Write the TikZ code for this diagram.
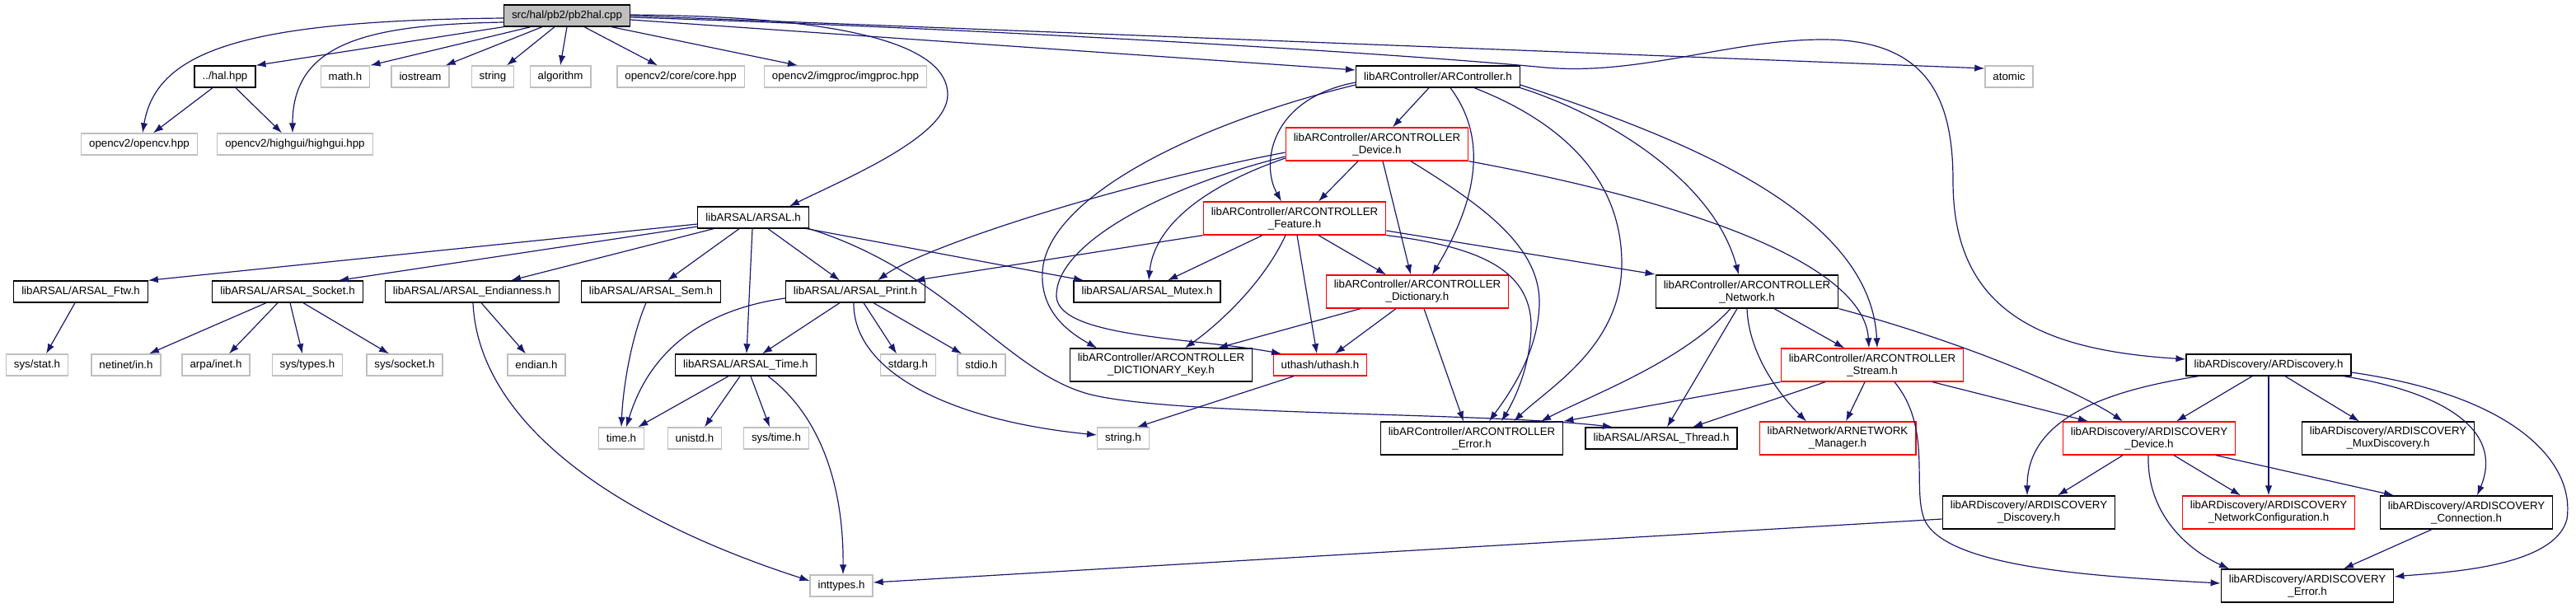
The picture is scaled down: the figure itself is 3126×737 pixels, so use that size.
\documentclass[tikz,border=0pt]{standalone}
\usepackage{fontspec}
\setmainfont{Liberation Sans}
\usetikzlibrary{arrows.meta}
\definecolor{depblue}{RGB}{25,25,112}
\definecolor{extgray}{RGB}{191,191,191}
\definecolor{rootgray}{RGB}{191,191,191}
\definecolor{truncred}{RGB}{255,0,0}
\newcommand{\graphfont}{\fontsize{13.3}{15}\selectfont}
\tikzset{
  >={Latex[length=12pt,width=8.5pt]},
  dep/.style={-{Latex[length=12pt,width=8.5pt]}, draw=depblue, line width=1.2pt},
  filebox/.style={shape=rectangle, draw=black, line width=1.3pt, fill=white, font=\graphfont, align=center, inner xsep=9.5pt, inner ysep=0pt, minimum height=26pt},
  twoline/.style={minimum height=40pt},
  extbox/.style={filebox, draw=extgray},
  redbox/.style={filebox, draw=truncred},
  rootbox/.style={filebox, fill=rootgray}
}

\begin{document}
\begin{tikzpicture}[x=1pt, y=-1pt]
  \useasboundingbox (0,0) rectangle (3126,737);

  % top rows
  \node[rootbox] (root) at (688,19) {src/hal/pb2/pb2hal.cpp};
  \node[filebox] (hal) at (273,93) {../hal.hpp};
  \node[extbox] (mathh) at (419,93) {math.h};
  \node[extbox] (iostream) at (510,93) {iostream};
  \node[extbox] (stringcpp) at (598,93) {string};
  \node[extbox] (algorithm) at (680,93) {algorithm};
  \node[extbox] (corehpp) at (826,93) {opencv2/core/core.hpp};
  \node[extbox] (imgproc) at (1026,93) {opencv2/imgproc/imgproc.hpp};
  \node[filebox] (arctrl) at (1745,93) {libARController/ARController.h};
  \node[extbox] (atomic) at (2438,93) {atomic};
  \node[extbox] (opencv) at (169,175) {opencv2/opencv.hpp};
  \node[extbox] (highgui) at (358,175) {opencv2/highgui/highgui.hpp};
  \node[redbox, twoline] (device) at (1671,175) {libARController/ARCONTROLLER\\\_Device.h};
  \node[redbox, twoline] (feature) at (1571,265) {libARController/ARCONTROLLER\\\_Feature.h};
  \node[filebox] (arsal) at (914,264) {libARSAL/ARSAL.h};

  % middle rows
  \node[filebox] (ftw) at (98,354) {libARSAL/ARSAL\_Ftw.h};
  \node[filebox] (socket) at (349,354) {libARSAL/ARSAL\_Socket.h};
  \node[filebox] (endn) at (573,354) {libARSAL/ARSAL\_Endianness.h};
  \node[filebox] (sem) at (790,354) {libARSAL/ARSAL\_Sem.h};
  \node[filebox] (print) at (1038,354) {libARSAL/ARSAL\_Print.h};
  \node[filebox] (mutex) at (1392,354) {libARSAL/ARSAL\_Mutex.h};
  \node[redbox, twoline] (dict) at (1720,354) {libARController/ARCONTROLLER\\\_Dictionary.h};
  \node[filebox, twoline] (network) at (2120,354) {libARController/ARCONTROLLER\\\_Network.h};

  \node[extbox] (sysstat) at (45,443) {sys/stat.h};
  \node[extbox] (netinet) at (153,443) {netinet/in.h};
  \node[extbox] (arpa) at (262,443) {arpa/inet.h};
  \node[extbox] (systypes) at (373,443) {sys/types.h};
  \node[extbox] (syssocket) at (491,443) {sys/socket.h};
  \node[extbox] (endianh) at (651,443) {endian.h};
  \node[filebox] (arsaltime) at (905,443) {libARSAL/ARSAL\_Time.h};
  \node[extbox] (stdarg) at (1102,443) {stdarg.h};
  \node[extbox] (stdio) at (1191,443) {stdio.h};
  \node[filebox, twoline] (dkey) at (1409,443) {libARController/ARCONTROLLER\\\_DICTIONARY\_Key.h};
  \node[redbox] (uthash) at (1602,443) {uthash/uthash.h};
  \node[redbox, twoline] (stream) at (2272,443) {libARController/ARCONTROLLER\\\_Stream.h};
  \node[filebox] (ardisc) at (2753,443) {libARDiscovery/ARDiscovery.h};

  % lower rows
  \node[extbox] (timeh) at (754,532) {time.h};
  \node[extbox] (unistd) at (843,532) {unistd.h};
  \node[extbox] (systime) at (942,532) {sys/time.h};
  \node[extbox] (stringh) at (1363,532) {string.h};
  \node[filebox, twoline] (ctrlerr) at (1786,532) {libARController/ARCONTROLLER\\\_Error.h};
  \node[filebox] (thread) at (2016,532) {libARSAL/ARSAL\_Thread.h};
  \node[redbox, twoline] (netmgr) at (2230,532) {libARNetwork/ARNETWORK\\\_Manager.h};
  \node[redbox, twoline] (discdev) at (2608,532) {libARDiscovery/ARDISCOVERY\\\_Device.h};
  \node[filebox, twoline] (discmux) at (2898,532) {libARDiscovery/ARDISCOVERY\\\_MuxDiscovery.h};
  \node[filebox, twoline] (discdisc) at (2462,622) {libARDiscovery/ARDISCOVERY\\\_Discovery.h};
  \node[redbox, twoline] (discnet) at (2753,622) {libARDiscovery/ARDISCOVERY\\\_NetworkConfiguration.h};
  \node[filebox, twoline] (disccon) at (2993,622) {libARDiscovery/ARDISCOVERY\\\_Connection.h};
  \node[extbox] (inttypes) at (1021,711) {inttypes.h};
  \node[filebox, twoline] (discerr) at (2800,711) {libARDiscovery/ARDISCOVERY\\\_Error.h};

  % includes of pb2hal.cpp
  \draw[dep] (root.south west) -- (hal.north east);
  \draw[dep] ([xshift=-44]root.south) -- (mathh.north east);
  \draw[dep] ([xshift=-30]root.south) -- ([xshift=-5]iostream.north east);
  \draw[dep] ([xshift=-15]root.south) -- ([xshift=17]stringcpp.north);
  \draw[dep] (root.south) -- (algorithm.north);
  \draw[dep] ([xshift=21]root.south) -- ([xshift=-28]corehpp.north);
  \draw[dep] ([xshift=54]root.south) -- ([xshift=-58]imgproc.north);
  \draw[dep] ([yshift=-3]root.west) .. controls (300,25) and (190,60) .. ([xshift=4]opencv.north);
  \draw[dep] ([yshift=-8]root.west) .. controls (450,30) and (355,50) .. ([xshift=-3]highgui.north);
  \draw[dep] ([yshift=-5]root.east) -- ([yshift=8]arctrl.west);
  \draw[dep] (root.east) -- ([yshift=10]atomic.west);
  \draw[dep] ([yshift=1]root.east) .. controls (1050,20) and (1150,60) .. (1150,115) .. controls (1150,165) and (1030,215) .. ([xshift=44]arsal.north);
  \draw[dep] ([yshift=-2]root.east) .. controls (1200,35) and (1700,65) .. (1875,82) .. controls (1990,92) and (2100,48) .. (2212,48) .. controls (2340,48) and (2370,120) .. (2370,220) .. controls (2370,380) and (2480,425) .. ([yshift=7]ardisc.west);

  % ../hal.hpp
  \draw[dep] ([xshift=-15]hal.south) -- ([xshift=17]opencv.north);
  \draw[dep] ([xshift=13]hal.south) -- ([xshift=-16]highgui.north);

  % ARController.h
  \draw[dep] ([xshift=-11]arctrl.south) -- ([xshift=19]device.north);
  \draw[dep] ([yshift=-7]arctrl.west) .. controls (1540,120) and (1530,200) .. ([xshift=-16]feature.north);
  \draw[dep] ([yshift=-10]arctrl.west) .. controls (1450,150) and (1270,240) .. (1265,330) .. controls (1262,380) and (1300,405) .. ([xshift=-78]dkey.north);
  \draw[dep] ([xshift=15]arctrl.south) .. controls (1800,160) and (1800,230) .. ([xshift=18]dict.north);
  \draw[dep] ([xshift=44]arctrl.south) .. controls (1900,150) and (1968,220) .. (1968,320) .. controls (1968,420) and (1880,470) .. ([xshift=51]ctrlerr.north);
  \draw[dep] (arctrl.south east) .. controls (1950,140) and (2080,220) .. ([xshift=-10]network.north);
  \draw[dep] ([yshift=-10]arctrl.east) .. controls (2050,170) and (2270,260) .. ([xshift=6]stream.north);

  % ARCONTROLLER_Device.h
  \draw[dep] ([xshift=-23]device.south) -- ([xshift=29]feature.north);
  \draw[dep] ([xshift=7]device.south) -- ([xshift=-8]dict.north);
  \draw[dep] ([xshift=41]device.south) .. controls (1800,250) and (1870,300) .. (1868,370) .. controls (1866,430) and (1830,480) .. ([xshift=21]ctrlerr.north);
  \draw[dep] (device.south east) .. controls (2050,245) and (2262,320) .. ([xshift=-4]stream.north);
  \draw[dep] ([yshift=-10]device.west) .. controls (1350,225) and (1120,300) .. ([xshift=27]print.north);
  \draw[dep] ([yshift=-15]device.west) .. controls (1400,230) and (1280,300) .. (1282,360) .. controls (1285,410) and (1450,410) .. ([xshift=-47]uthash.north);
  \draw[dep] ([yshift=-17]device.west) .. controls (1450,230) and (1400,280) .. ([xshift=2]mutex.north);

  % ARCONTROLLER_Feature.h
  \draw[dep] (feature.south west) -- ([xshift=-13]print.north east);
  \draw[dep] ([xshift=-39]feature.south) -- ([xshift=25]mutex.north);
  \draw[dep] ([xshift=-11]feature.south) .. controls (1530,350) and (1470,400) .. ([xshift=29]dkey.north);
  \draw[dep] ([xshift=3]feature.south) -- ([xshift=-4]uthash.north);
  \draw[dep] ([xshift=29]feature.south) -- ([xshift=-38]dict.north);
  \draw[dep] ([yshift=-15]feature.east) -- ([yshift=21]network.west);
  \draw[dep] (feature.south east) .. controls (1800,300) and (1860,330) .. (1858,400) .. controls (1856,450) and (1835,490) .. ([xshift=36]ctrlerr.north);

  % ARCONTROLLER_Dictionary.h
  \draw[dep] ([xshift=-69]dict.south) -- ([xshift=69]dkey.north);
  \draw[dep] ([xshift=-26]dict.south) -- ([xshift=18]uthash.north);
  \draw[dep] ([xshift=8]dict.south) -- ([xshift=-10]ctrlerr.north);

  % ARCONTROLLER_Network.h
  \draw[dep] ([xshift=-20]network.south) .. controls (2040,440) and (1930,480) .. ([xshift=84]ctrlerr.north);
  \draw[dep] ([xshift=-12]network.south) -- ([xshift=7]thread.north);
  \draw[dep] (network.south) .. controls (2122,430) and (2160,480) .. ([xshift=-38]netmgr.north);
  \draw[dep] ([xshift=33]network.south) -- ([xshift=-34]stream.north);
  \draw[dep] (network.south east) .. controls (2400,420) and (2530,480) .. ([xshift=-32]discdev.north);

  % ARCONTROLLER_Stream.h
  \draw[dep] (stream.south west) -- (ctrlerr.north east);
  \draw[dep] ([xshift=-57]stream.south) -- ([xshift=38]thread.north);
  \draw[dep] ([xshift=-9]stream.south) -- ([xshift=10]netmgr.north);
  \draw[dep] ([xshift=27]stream.south) .. controls (2345,520) and (2320,590) .. (2335,630) .. controls (2360,690) and (2550,700) .. ([yshift=3]discerr.west);
  \draw[dep] ([xshift=73]stream.south) -- ([xshift=-74]discdev.north);

  % ARSAL.h
  \draw[dep] ([yshift=-8]arsal.west) -- (ftw.north east);
  \draw[dep] ([yshift=-11]arsal.west) -- ([xshift=62]socket.north);
  \draw[dep] ([xshift=-48]arsal.south) -- ([xshift=47]endn.north);
  \draw[dep] ([xshift=-17]arsal.south) -- ([xshift=20]sem.north);
  \draw[dep] ([xshift=-1]arsal.south) -- ([xshift=1]arsaltime.north);
  \draw[dep] ([xshift=18]arsal.south) -- ([xshift=-19]print.north);
  \draw[dep] ([xshift=65]arsal.south) -- ([xshift=-77]mutex.north);
  \draw[dep] (arsal.south east) .. controls (1150,330) and (1220,450) .. (1320,478) .. controls (1420,505) and (1800,500) .. ([xshift=-59]thread.north);

  % ARSAL_Print.h
  \draw[dep] ([xshift=-19]print.south) -- ([xshift=20]arsaltime.north);
  \draw[dep] ([xshift=-2]print.south) .. controls (1035,450) and (1150,510) .. ([yshift=4]stringh.west);
  \draw[dep] ([xshift=10]print.south) -- ([xshift=-14]stdarg.north);
  \draw[dep] ([xshift=22]print.south) -- ([xshift=-24]stdio.north);
  \draw[dep] ([yshift=-8]print.west) .. controls (860,375) and (790,420) .. ([xshift=6]timeh.north);

  % ARSAL_Sem.h, ARSAL_Time.h
  \draw[dep] ([xshift=-6]sem.south) .. controls (766,410) and (756,470) .. (timeh.north);
  \draw[dep] ([xshift=-21]arsaltime.south) -- ([xshift=-8]timeh.north east);
  \draw[dep] ([xshift=-7]arsaltime.south) -- ([xshift=12]unistd.north);
  \draw[dep] ([xshift=6]arsaltime.south) -- ([xshift=-8]systime.north);
  \draw[dep] ([xshift=27]arsaltime.south) .. controls (990,500) and (1024,580) .. ([xshift=2]inttypes.north);

  % ARSAL_Endianness.h, ARSAL_Socket.h, ARSAL_Ftw.h
  \draw[dep] ([xshift=11]endn.south) -- ([xshift=-13]endianh.north);
  \draw[dep] ([xshift=1]endn.south) .. controls (580,500) and (720,620) .. ([yshift=6]inttypes.west);
  \draw[dep] ([xshift=-26]socket.south) -- ([xshift=28]netinet.north);
  \draw[dep] ([xshift=-12]socket.south) -- ([xshift=16]arpa.north);
  \draw[dep] ([xshift=3]socket.south) -- ([xshift=-6]systypes.north);
  \draw[dep] ([xshift=19]socket.south) -- ([xshift=-19]syssocket.north);
  \draw[dep] ([xshift=-7]ftw.south) -- ([xshift=11]sysstat.north);
  \draw[dep] ([xshift=-32]uthash.south) -- ([xshift=17]stringh.north);

  % ARDiscovery.h
  \draw[dep] ([xshift=-85]ardisc.south) .. controls (2550,475) and (2460,510) .. ([xshift=-2]discdisc.north);
  \draw[dep] ([xshift=-20]ardisc.south) -- ([xshift=33]discdev.north);
  \draw[dep] (ardisc.south) -- (discnet.north);
  \draw[dep] ([xshift=20]ardisc.south) -- ([xshift=-35]discmux.north);
  \draw[dep] ([xshift=91]ardisc.south) .. controls (2960,475) and (3040,520) .. ([xshift=13]disccon.north);
  \draw[dep] ([yshift=-9]ardisc.east) .. controls (3050,480) and (3125,560) .. (3115,630) .. controls (3100,690) and (2960,695) .. ([yshift=11]discerr.east);

  % ARDISCOVERY_Device.h, _Connection.h, _Discovery.h
  \draw[dep] ([xshift=-32]discdev.south) -- ([xshift=35]discdisc.north);
  \draw[dep] ([xshift=-1]discdev.south) .. controls (2605,620) and (2650,665) .. ([xshift=-95]discerr.north);
  \draw[dep] ([xshift=30]discdev.south) -- ([xshift=-34]discnet.north);
  \draw[dep] ([xshift=81]discdev.south) -- ([xshift=-88]disccon.north);
  \draw[dep] ([xshift=-42]disccon.south) -- ([xshift=44]discerr.north);
  \draw[dep] ([yshift=-8]discdisc.west) -- ([yshift=4]inttypes.east);
\end{tikzpicture}
\end{document}
